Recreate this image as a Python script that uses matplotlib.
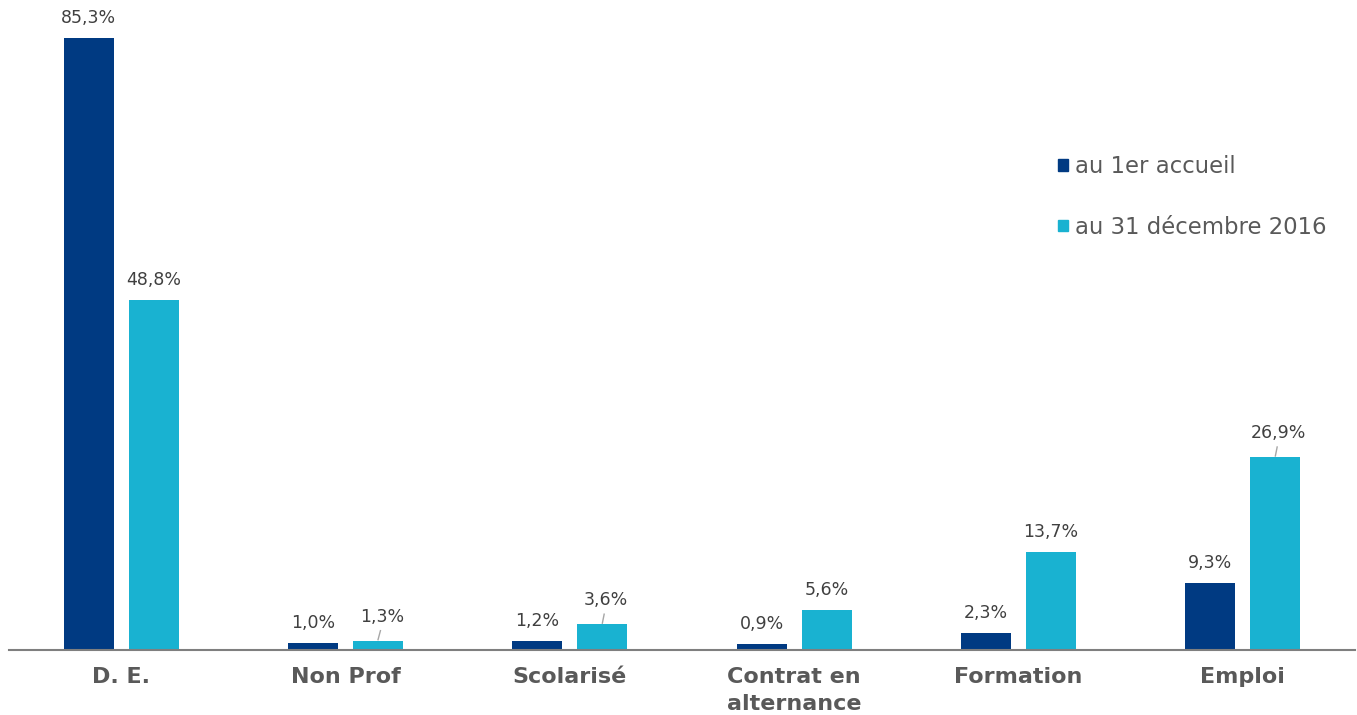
import matplotlib
matplotlib.use("Agg")
import matplotlib.pyplot as plt
from matplotlib.patches import Patch
import numpy as np

categories = ["D. E.", "Non Prof", "Scolarisé", "Contrat en\nalternance", "Formation", "Emploi"]
first_visit = [85.3, 1.0, 1.2, 0.9, 2.3, 9.3]
end_2016 = [48.8, 1.3, 3.6, 5.6, 13.7, 26.9]
series_names = ["au 1er accueil", "au 31 décembre 2016"]

DARK = "#003A82"
LIGHT = "#19B2D1"
TEXT = "#404040"
GREY = "#595959"

W, H = 1357, 715
fig = plt.figure(figsize=(W / 100, H / 100), dpi=100)
ax = fig.add_axes([9 / W, 65 / H, 1346 / W, 650 / H])

x = np.arange(len(categories))
bw = 0.223
off = 0.145
ax.bar(x - off, first_visit, bw, color=DARK)
ax.bar(x + off, end_2016, bw, color=LIGHT)

ymax = 650 / 7.175
ax.set_xlim(-0.5, len(categories) - 0.5)
ax.set_ylim(0, ymax)

def fmt(v):
    return f"{v:.1f}%".replace(".", ",")

px = ymax / 650  # data units per pixel

for xi, v in zip(x - off, first_visit):
    ax.text(xi, v + 20 * px, fmt(v), ha="center", va="center", fontsize=12.5, color=TEXT)

# small bars get their label lifted a bit, with a short leader line
leader = {1: 4, 2: 3, 5: 3}
for i, (xi, v) in enumerate(zip(x + off, end_2016)):
    if i in leader:
        dx = leader[i] / 224.3
        ly = v + 24 * px
        ax.text(xi + dx, ly, fmt(v), ha="center", va="center", fontsize=12.5, color=TEXT)
        ax.plot([xi, xi + dx * 0.6], [v + 1 * px, v + 10 * px], color="#A6A6A6", lw=1)
    else:
        ax.text(xi, v + 20 * px, fmt(v), ha="center", va="center", fontsize=12.5, color=TEXT)

for s in ["top", "right", "left"]:
    ax.spines[s].set_visible(False)
ax.spines["bottom"].set_color("#7F7F7F")
ax.spines["bottom"].set_linewidth(1.5)
ax.set_yticks([])
ax.set_xticks(x)
ax.set_xticklabels(categories, fontsize=16, fontweight="bold", color=GREY, linespacing=1.45)
ax.tick_params(axis="x", length=0, pad=12)

handles = [Patch(color=DARK, label=series_names[0]), Patch(color=LIGHT, label=series_names[1])]
fig.legend(handles=handles, loc="upper left", bbox_to_anchor=(1058 / W, 1 - 155 / H),
           frameon=False, fontsize=16.4, labelcolor=GREY, handlelength=0.45, handleheight=0.4,
           handletextpad=0.3, labelspacing=1.65, borderpad=0, borderaxespad=0)

fig.savefig("out.png", dpi=100)
